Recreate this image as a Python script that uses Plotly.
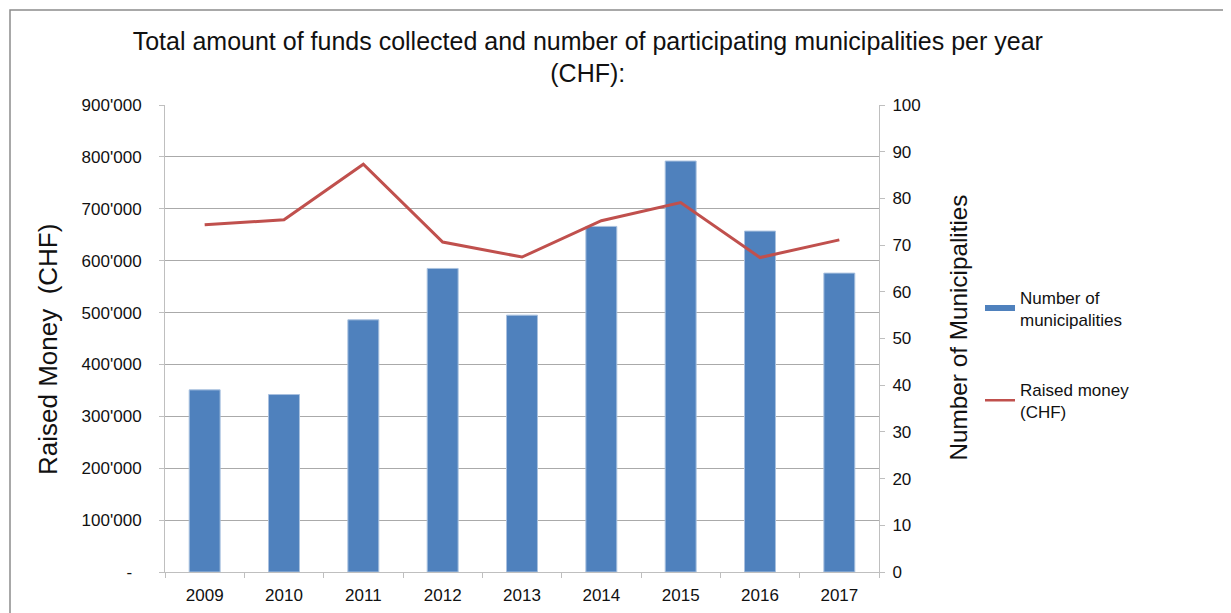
import plotly.graph_objects as go

years = ["2009", "2010", "2011", "2012", "2013", "2014", "2015", "2016", "2017"]
municipalities = [39, 38, 54, 65, 55, 74, 88, 73, 64]
raised_money = [669000, 679000, 786000, 636000, 607000, 677000, 712000, 606000, 640000]

money_ticks = [0, 100000, 200000, 300000, 400000, 500000, 600000, 700000, 800000, 900000]
money_ticktext = ["-\u00a0\u00a0", "100'000", "200'000", "300'000", "400'000", "500'000",
                  "600'000", "700'000", "800'000", "900'000"]
muni_ticks = [0, 10, 20, 30, 40, 50, 60, 70, 80, 90, 100]

FONT = "Liberation Sans, Arial, sans-serif"
BAR_COLOR = "#4f81bd"
LINE_COLOR = "#c0504d"
GRID = "#aaaaaa"
AXIS = "#bfbfbf"

# plot area in figure pixels (page is offset by the body margin)
L, R, T, B = 157, 871, 97, 564
W, H = 1231, 613


def px_x(x):
    return (x - L) / (R - L)


def px_y(y):
    return (B - y) / (B - T)


fig = go.Figure()

fig.add_trace(go.Bar(
    x=years, y=municipalities, yaxis="y",
    marker=dict(color=BAR_COLOR, line=dict(color="#a9c1df", width=1)),
    name="Number of<br>municipalities", showlegend=False,
))
fig.add_trace(go.Scatter(
    x=years, y=raised_money, yaxis="y2", mode="lines",
    line=dict(color=LINE_COLOR, width=3),
    name="Raised money<br>(CHF)", showlegend=False,
))
# legend proxies
fig.add_trace(go.Scatter(
    x=[None], y=[None], yaxis="y", mode="lines",
    line=dict(color=BAR_COLOR, width=6),
    name="Number of<br>municipalities", legendgroup="a",
))
fig.add_trace(go.Scatter(
    x=[None], y=[None], yaxis="y2", mode="lines",
    line=dict(color=LINE_COLOR, width=2.5),
    name="Raised money<br>(CHF)", legendgroup="b",
))

fig.update_layout(
    width=W, height=H,
    margin=dict(l=L, r=W - R, t=T, b=H - B),
    paper_bgcolor="white", plot_bgcolor="white",
    font=dict(family=FONT, size=17, color="#111"),
    title=dict(
        text="Total amount of funds collected and number of participating municipalities per year<br>(CHF):",
        x=0.471, xref="container", xanchor="center",
        y=0.932, yref="container", yanchor="top",
        font=dict(family=FONT, size=25, color="#111"),
    ),
    bargap=0.61,
    xaxis=dict(
        type="category", showgrid=False, automargin=False,
        showline=True, linecolor=AXIS, linewidth=1,
        ticks="outside", ticklen=5, tickcolor=AXIS, tickson="boundaries",
        ticklabelstandoff=8,
        tickfont=dict(family=FONT, size=17, color="#111"),
    ),
    yaxis=dict(
        side="right", range=[0, 100], tickvals=muni_ticks,
        showgrid=False, zeroline=False, automargin=False,
        showline=True, linecolor=AXIS, linewidth=1,
        ticks="outside", ticklen=5, tickcolor=AXIS,
        ticklabelstandoff=4,
        tickfont=dict(family=FONT, size=17, color="#111"),
    ),
    yaxis2=dict(
        side="left", overlaying="y", range=[0, 900000],
        tickvals=money_ticks, ticktext=money_ticktext,
        showgrid=True, gridcolor=GRID, gridwidth=1, zeroline=False,
        automargin=False,
        showline=True, linecolor=AXIS, linewidth=1,
        ticks="outside", ticklen=5, tickcolor=AXIS,
        ticklabelstandoff=14,
        tickfont=dict(family=FONT, size=17, color="#111"),
    ),
    legend=dict(
        x=px_x(972), xanchor="left", y=0.6264, yanchor="top",
        font=dict(family=FONT, size=17, color="#111"),
        tracegroupgap=45, itemwidth=30,
        bgcolor="rgba(0,0,0,0)",
    ),
    annotations=[
        dict(text="Raised Money\u00a0\u00a0(CHF)", textangle=-90,
             xref="paper", yref="paper", x=px_x(40), y=px_y(342),
             xanchor="center", yanchor="middle", showarrow=False,
             font=dict(family=FONT, size=26, color="#111")),
        dict(text="Number of Municipalities", textangle=-90,
             xref="paper", yref="paper", x=px_x(950), y=px_y(319.5),
             xanchor="center", yanchor="middle", showarrow=False,
             font=dict(family=FONT, size=24.3, color="#111")),
    ],
    shapes=[dict(
        type="rect", xref="paper", yref="paper",
        x0=px_x(2), x1=px_x(1221),
        y0=-0.3, y1=px_y(2),
        line=dict(color="#8c8c8c", width=1.5), fillcolor="rgba(0,0,0,0)",
        layer="below",
    )],
)

fig.write_html("out.html")
